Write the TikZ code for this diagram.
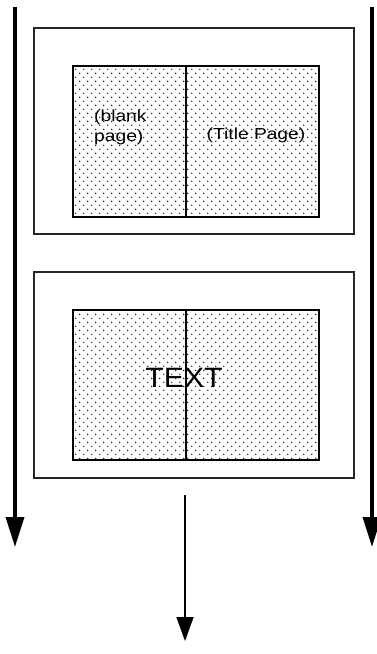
\documentclass[tikz,border=0pt]{standalone}
\usepackage{fontspec}
\setmainfont{Liberation Sans}
\usetikzlibrary{arrows.meta, positioning, patterns}

% staggered dot screen for the pages
\pgfdeclarepatternformonly{pagedots}{\pgfpointorigin}{\pgfpoint{8.3pt}{8.3pt}}{\pgfpoint{8.3pt}{8.3pt}}{
	\pgfpathcircle{\pgfpoint{2pt}{2pt}}{0.8pt}
	\pgfpathcircle{\pgfpoint{6.15pt}{6.15pt}}{0.8pt}
	\pgfusepath{fill}
}

\tikzset{
	spread/.style={draw=black!85, line width=2pt, inner sep=0pt, minimum width=320pt, minimum height=206pt},
	pagebox/.style={draw, line width=1.5pt, inner sep=0pt, pattern=pagedots, pattern color=black, minimum height=151pt},
	flow/.style={line width=3.5pt, -{Triangle[length=30pt, width=18pt]}},
	pagelabel/.style={font=\fontsize{16}{19}\selectfont, xscale=1.2, transform shape}
}

\begin{document}
\begin{tikzpicture}[x=1pt, y=-1pt]
	\useasboundingbox (0,0) rectangle (377,654);

	% first spread
	\node[spread] (spreadA) at (194,131) {};
	\node[pagebox, minimum width=113pt, anchor=north west] (blankpg) at (72,65) {};
	\node[pagebox, minimum width=133pt, anchor=north west] (titlepg) at (185,65) {};
	\node[pagelabel, anchor=west, align=left] (blanklbl) at (90,127) {(blank\\[1pt]page)};
	\node[pagelabel] (titlelbl) at (256,135) {(Title Page)};

	% second spread
	\node[spread] (spreadB) at (194,375) {};
	\node[pagebox, minimum width=113pt, minimum height=150pt, anchor=north west] (textpgA) at (72,309) {};
	\node[pagebox, minimum width=133pt, minimum height=150pt, anchor=north west] (textpgB) at (185,309) {};
	\node[font=\fontsize{28}{30}\selectfont, xscale=1.08, transform shape] (textlbl) at (184,378) {TEXT};

	% running arrows
	\coordinate (leftTop) at (15,7);
	\coordinate (leftEnd) at (15,547);
	\coordinate (rightTop) at (372,7);
	\coordinate (rightEnd) at (372,547);
	\coordinate (midTop) at (185,495);
	\coordinate (midEnd) at (185,641);
	\draw[flow] (leftTop) -- (leftEnd);
	\draw[flow] (rightTop) -- (rightEnd);
	\draw[line width=1.8pt, -{Triangle[length=24pt, width=17pt]}] (midTop) -- (midEnd);
\end{tikzpicture}
\end{document}
